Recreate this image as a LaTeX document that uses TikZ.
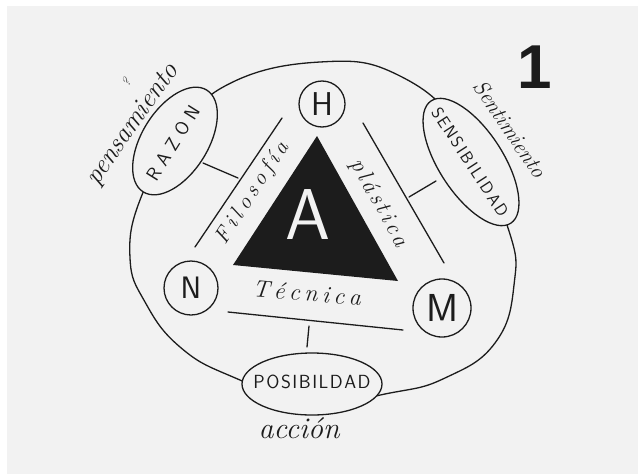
\documentclass[tikz,border=0pt]{standalone}
\usepackage{fontspec}
\usetikzlibrary{shapes.geometric}
\definecolor{paper}{HTML}{F2F2F2}
\definecolor{ink}{HTML}{1C1C1C}
\newfontfamily\numfont{Liberation Sans}
% letter spacing by explicit kerns
\def\spaceout#1#2{\def\lspamt{#1}\spaceoutA#2\relax}
\def\spaceoutA#1{#1\spaceoutB}
\def\spaceoutB#1{\ifx#1\relax\else\kern\lspamt#1\expandafter\spaceoutB\fi}
\begin{document}
\begin{tikzpicture}[x=1pt,y=-1pt,
  pen/.style={draw=ink, line width=1.3pt, line cap=round},
  ring/.style={ellipse, draw=ink, line width=1.3pt, fill=paper, inner sep=0pt},
  disc/.style={circle, draw=ink, line width=1.3pt, fill=paper, inner sep=0pt, text=ink},
  capslab/.style={text=ink, inner sep=0pt, font=\sffamily\fontsize{18}{18}\selectfont},
  script/.style={text=ink, inner sep=0pt}]
% background
\useasboundingbox (0,0) rectangle (644,474);
\fill[white] (0,0) rectangle (644,474);
\fill[paper] (7,6) rectangle (638,474);
% outer loop
\draw[pen] plot[smooth cycle, tension=0.75] coordinates {
  (320,62) (400,76) (465,135) (508,228) (514,285) (495,343) (445,378)
  (390,393) (312,403) (233,377) (180,347) (145,302) (130,258) (140,200) (175,140) (225,86)};
% triangle
\coordinate (tA) at (317,136);
\coordinate (tB) at (233,265);
\coordinate (tC) at (398,281);
\fill[ink] (tA) -- (tB) -- (tC) -- cycle;
\node[text=paper, inner sep=0pt, font=\sffamily\fontsize{72}{72}\selectfont] (a) at (308,215) {A};
% lines parallel to edges
\coordinate (f1) at (282,118);
\coordinate (f2) at (195,247);
\coordinate (p1) at (363,123);
\coordinate (p2) at (444,263);
\coordinate (t1) at (228,312);
\coordinate (t2) at (403,330);
\draw[pen] (f1) -- (f2);
\draw[pen] (p1) -- (p2);
\draw[pen] (t1) -- (t2);
% labels on lines
\node[script, rotate=57, font=\itshape\fontsize{22}{22}\selectfont] (filo) at (253,193) {\spaceout{4.5pt}{Filosofía}};
\node[script, rotate=-61, font=\itshape\fontsize{23}{23}\selectfont] (plas) at (379,203) {\spaceout{3.3pt}{plástica}};
\node[script, rotate=-5, font=\itshape\fontsize{24}{24}\selectfont] (tecn) at (307,293) {\spaceout{4.5pt}{Técnica}};
% circles
\node[disc, minimum size=46, font=\sffamily\fontsize{33}{33}\selectfont] (h) at (322,104) {H};
\node[disc, minimum size=54, font=\sffamily\fontsize{31}{31}\selectfont] (n) at (191,288) {N};
\node[disc, minimum size=58, font=\sffamily\fontsize{39}{39}\selectfont] (m) at (442,308) {M};
% ellipses
\node[ring, rotate=58, minimum width=120, minimum height=66] (razon) at (175,141) {};
\node[capslab, rotate=58, font=\sffamily\fontsize{19}{19}\selectfont] (razont) at (173,143) {\spaceout{6pt}{RAZON}};
\node[ring, rotate=-57, minimum width=146, minimum height=64] (sens) at (471,162) {};
\node[capslab, rotate=-57, font=\sffamily\fontsize{17}{17}\selectfont] (senst) at (470,162) {\spaceout{2pt}{SENSIBILIDAD}};
\node[ring, minimum width=140, minimum height=62] (posi) at (312,384) {};
\node[capslab, font=\sffamily\fontsize{19}{19}\selectfont] (posit) at (312,382) {\spaceout{1.5pt}{POSIBILDAD}};
% ticks
\coordinate (r1) at (203,163);
\coordinate (r2) at (238,178);
\coordinate (s1) at (409,197);
\coordinate (s2) at (436,181);
\coordinate (b1) at (309,326);
\coordinate (b2) at (307,347);
\draw[pen] (r1) -- (r2);
\draw[pen] (s1) -- (s2);
\draw[pen] (b1) -- (b2);
% outer words
\node[script, rotate=55, font=\itshape\fontsize{27}{27}\selectfont] (pens) at (133,125) {pensamiento};
\node[script, rotate=55, font=\itshape\fontsize{13}{13}\selectfont] (q) at (126,82) {?};
\node[script, rotate=-56, font=\itshape\fontsize{22}{22}\selectfont] (sent) at (510,129) {Sentimiento};
\node[script, font=\itshape\fontsize{30}{30}\selectfont] (acc) at (299,428) {acción};
% number
\node[text=ink, inner sep=0pt, font=\numfont\bfseries\fontsize{62}{62}\selectfont] (one) at (535,67) {1};
\end{tikzpicture}
\end{document}
